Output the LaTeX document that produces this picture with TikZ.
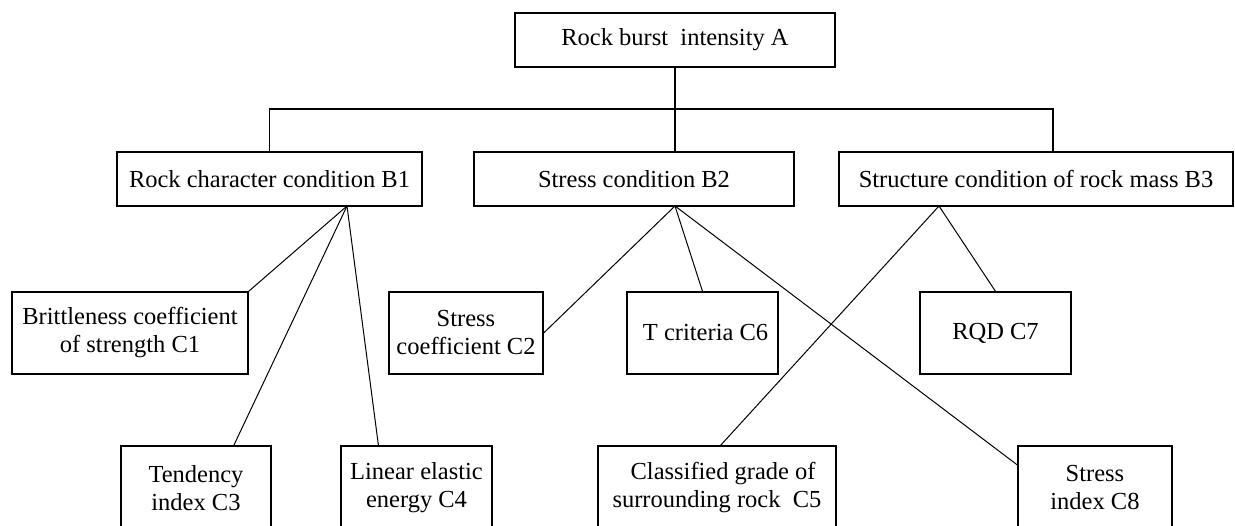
\documentclass[tikz,border=0pt]{standalone}
\usepackage{fontspec}
\setmainfont{Liberation Serif}
\usepackage{tikz}
\usetikzlibrary{calc}

\begin{document}
\begin{tikzpicture}[x=1pt,y=1pt,
	box/.style={draw=black,line width=1.3pt,inner sep=0pt,align=center,
		font=\fontsize{24.5}{28}\selectfont},
	link/.style={draw=black,line width=1pt}]
	\useasboundingbox (0,0) rectangle (1235,-526);
	\fill [white] (0,0) rectangle (1235,-526);
	\node [box,minimum width=320,minimum height=54] (A) at (675,-40) {Rock burst\ \ intensity A};
	\node [box,minimum width=305,minimum height=54] (B1) at (269.5,-179) {Rock character condition B1};
	\node [box,minimum width=320,minimum height=54] (B2) at (634,-179) {Stress condition B2};
	\node [box,minimum width=394,minimum height=54] (B3) at (1036,-179) {Structure condition of rock mass B3};
	\node [box,minimum width=236,minimum height=82] (C1) at (130,-333) {Brittleness coefficient\\of strength C1};
	\node [box,minimum width=154,minimum height=82] (C2) at (466,-333) {Stress\\coefficient C2};
	\node [box,minimum width=151,minimum height=82] (C6) at (702.5,-333) {\ T criteria C6};
	\node [box,minimum width=151,minimum height=82] (C7) at (995.5,-333) {RQD C7};
	\node [box,minimum width=150,minimum height=84] (C3) at (196,-488) {Tendency\\index C3};
	\node [box,minimum width=151,minimum height=84] (C4) at (416.5,-488) {Linear elastic\\energy C4};
	\node [box,minimum width=238,minimum height=84] (C5) at (717,-488) {\ \ Classified grade of\\surrounding rock\ \ C5};
	\node [box,minimum width=154,minimum height=84] (C8) at (1095,-488) {Stress\\index C8};
	\coordinate (hub) at (675,-109);
	\coordinate (j3) at (1053,-152);
	\coordinate (p1) at (347,-206);
	\coordinate (p2) at (675,-206);
	\coordinate (p3) at (939,-206);
	\draw [black,line width=1.3pt] (A.south) -- (A.south |- B2.north);
	\draw [black,line width=1.3pt] (B1.north) |- (hub) -| (j3);
	\draw [link] (p1) -- (C1.north east);
	\draw [link] (p1) -- ($(C3.north west)!0.75!(C3.north east)$);
	\draw [link] (p1) -- ($(C4.north west)!0.25!(C4.north east)$);
	\draw [link] (p2) -- (C2.east);
	\draw [link] (p2) -- (C6.north);
	\draw [link] (p2) -- ($(C8.north west)!0.23!(C8.south west)$);
	\draw [link] (p3) -- (C7.north);
	\draw [link] (p3) -- ($(C5.north west)!0.515!(C5.north east)$);
\end{tikzpicture}
\end{document}
